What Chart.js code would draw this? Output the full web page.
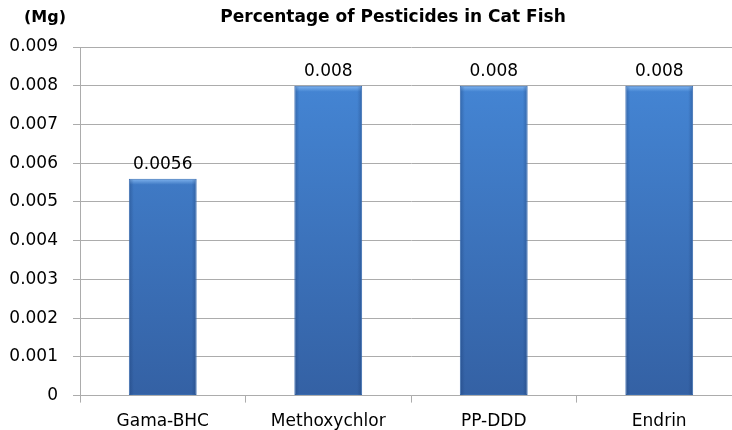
<!DOCTYPE html>
<html>
<head>
<meta charset="utf-8">
<script src="https://cdn.jsdelivr.net/npm/chart.js@4/dist/chart.umd.min.js"></script>
<style>
  html, body { margin: 0; padding: 0; background: #ffffff; }
  #wrap { width: 732px; height: 430px; overflow: hidden; position: relative; }
  canvas { display: block; }
</style>
</head>
<body>
<div id="wrap"><canvas id="chart" width="746" height="430"></canvas></div>
<script>
// Pesticide residues measured in cat fish (mg)
const categories = ['Gama-BHC', 'Methoxychlor', 'PP-DDD', 'Endrin'];
const residues = [0.0056, 0.008, 0.008, 0.008];
const residueLabels = ['0.0056', '0.008', '0.008', '0.008'];
const yTickLabels = ['0', '0.001', '0.002', '0.003', '0.004', '0.005', '0.006', '0.007', '0.008', '0.009'];

const chartTitle = 'Percentage of Pesticides in Cat Fish';
const unitLabel = '(Mg)';

const FONT = '"DejaVu Sans", sans-serif';
const GRID = '#acacac';

// Vertical gradient for the bar fill, computed from the chart area
function barFill(ctx) {
  const area = ctx.chart.chartArea;
  if (!area) return '#3d78c4';
  const g = ctx.chart.ctx.createLinearGradient(0, area.top, 0, area.bottom);
  g.addColorStop(0, '#4689d9');
  g.addColorStop(1, '#3461a4');
  return g;
}

// Bevel highlights, value labels and header texts
const decorations = {
  id: 'decorations',
  afterDatasetsDraw(chart) {
    const c = chart.ctx;
    const meta = chart.getDatasetMeta(0);
    meta.data.forEach((bar, i) => {
      const left = bar.x - bar.width / 2;
      const right = bar.x + bar.width / 2;
      const top = bar.y;
      const bottom = bar.base;
      c.save();
      // top highlight
      const hg = c.createLinearGradient(0, top, 0, top + 6);
      hg.addColorStop(0, 'rgba(140,190,245,0.85)');
      hg.addColorStop(1, 'rgba(140,190,245,0)');
      c.fillStyle = hg;
      c.fillRect(left + 1, top + 1, bar.width - 2, 6);
      // side shading
      const lg = c.createLinearGradient(left, 0, left + 5, 0);
      lg.addColorStop(0, 'rgba(20,50,100,0.35)');
      lg.addColorStop(1, 'rgba(20,50,100,0)');
      c.fillStyle = lg;
      c.fillRect(left + 1, top + 1, 5, bottom - top - 1);
      const rg = c.createLinearGradient(right, 0, right - 5, 0);
      rg.addColorStop(0, 'rgba(20,50,100,0.35)');
      rg.addColorStop(1, 'rgba(20,50,100,0)');
      c.fillStyle = rg;
      c.fillRect(right - 6, top + 1, 5, bottom - top - 1);
      c.restore();

      c.save();
      c.fillStyle = '#000000';
      c.font = '17px ' + FONT;
      c.textAlign = 'center';
      c.textBaseline = 'middle';
      c.fillText(residueLabels[i], bar.x, top - 14);
      c.restore();
    });

    c.save();
    c.fillStyle = '#000000';
    c.textBaseline = 'middle';
    c.font = 'bold 16px ' + FONT;
    c.textAlign = 'left';
    c.fillText(unitLabel, 24, 18);
    c.font = 'bold 17px ' + FONT;
    c.textAlign = 'center';
    c.fillText(chartTitle, 393, 18);
    c.restore();
  }
};

new Chart(document.getElementById('chart'), {
  type: 'bar',
  data: {
    labels: categories,
    datasets: [{
      data: residues,
      backgroundColor: barFill,
      borderColor: '#3a6cb0',
      borderWidth: 1,
      borderSkipped: false,
      categoryPercentage: 1.0,
      barPercentage: 0.41
    }]
  },
  options: {
    responsive: false,
    animation: false,
    layout: { padding: { top: 47, right: 4, left: 0, bottom: 0 } },
    plugins: {
      legend: { display: false },
      title: { display: false },
      tooltip: { enabled: false }
    },
    scales: {
      x: {
        afterFit(scale) { scale.height = 34.4; },
        grid: {
          offset: true,
          drawOnChartArea: false,
          drawTicks: true,
          tickLength: 7,
          color: GRID
        },
        border: { color: GRID, width: 1 },
        ticks: {
          color: '#000000',
          padding: 9,
          font: { family: FONT, size: 17 }
        }
      },
      y: {
        min: 0,
        max: 0.009,
        afterFit(scale) { scale.width = 80; },
        grid: {
          color: GRID,
          drawTicks: true,
          tickLength: 7
        },
        border: { color: GRID, width: 1 },
        ticks: {
          stepSize: 0.001,
          padding: 15,
          color: '#000000',
          font: { family: FONT, size: 17 },
          callback(value, index) { return yTickLabels[index]; }
        }
      }
    }
  },
  plugins: [decorations]
});
</script>
</body>
</html>
